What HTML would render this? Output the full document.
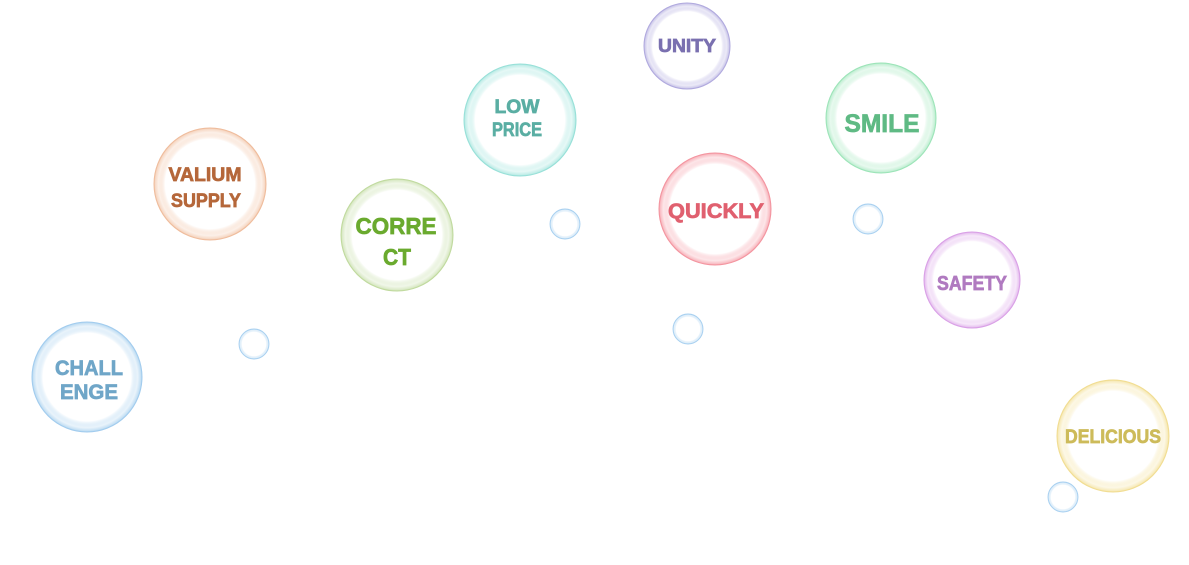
<!DOCTYPE html>
<html><head><meta charset="utf-8"><style>
html,body{margin:0;padding:0;background:#fff;width:1189px;height:565px;overflow:hidden}
svg{display:block}
text{font-family:"Liberation Sans",sans-serif;font-weight:bold;text-anchor:middle;stroke-width:0.7;paint-order:stroke}
</style></head><body>
<svg width="1189" height="565" viewBox="0 0 1189 565" xmlns="http://www.w3.org/2000/svg">
<defs>
<radialGradient id="gU"><stop offset="0" stop-color="#fff"/><stop offset="0.8" stop-color="#fff"/><stop offset="0.92" stop-color="#b4aee0" stop-opacity="0.25"/><stop offset="0.98" stop-color="#b4aee0" stop-opacity="0.65"/><stop offset="1" stop-color="#a9a2dc" stop-opacity="0.9"/></radialGradient>
<radialGradient id="gL"><stop offset="0" stop-color="#fff"/><stop offset="0.8" stop-color="#fff"/><stop offset="0.92" stop-color="#9fe4dc" stop-opacity="0.25"/><stop offset="0.98" stop-color="#9fe4dc" stop-opacity="0.65"/><stop offset="1" stop-color="#8ddcd3" stop-opacity="0.9"/></radialGradient>
<radialGradient id="gS"><stop offset="0" stop-color="#fff"/><stop offset="0.8" stop-color="#fff"/><stop offset="0.92" stop-color="#a6e8c0" stop-opacity="0.25"/><stop offset="0.98" stop-color="#a6e8c0" stop-opacity="0.65"/><stop offset="1" stop-color="#93e2b2" stop-opacity="0.9"/></radialGradient>
<radialGradient id="gV"><stop offset="0" stop-color="#fff"/><stop offset="0.8" stop-color="#fff"/><stop offset="0.92" stop-color="#f2c4a6" stop-opacity="0.25"/><stop offset="0.98" stop-color="#f2c4a6" stop-opacity="0.65"/><stop offset="1" stop-color="#ecb592" stop-opacity="0.9"/></radialGradient>
<radialGradient id="gC"><stop offset="0" stop-color="#fff"/><stop offset="0.8" stop-color="#fff"/><stop offset="0.92" stop-color="#c6dea8" stop-opacity="0.25"/><stop offset="0.98" stop-color="#c6dea8" stop-opacity="0.65"/><stop offset="1" stop-color="#b9d694" stop-opacity="0.9"/></radialGradient>
<radialGradient id="gQ"><stop offset="0" stop-color="#fff"/><stop offset="0.8" stop-color="#fff"/><stop offset="0.92" stop-color="#f6a0aa" stop-opacity="0.25"/><stop offset="0.98" stop-color="#f6a0aa" stop-opacity="0.7"/><stop offset="1" stop-color="#f28c98" stop-opacity="0.95"/></radialGradient>
<radialGradient id="gF"><stop offset="0" stop-color="#fff"/><stop offset="0.8" stop-color="#fff"/><stop offset="0.92" stop-color="#deaaea" stop-opacity="0.25"/><stop offset="0.98" stop-color="#deaaea" stop-opacity="0.7"/><stop offset="1" stop-color="#d596e4" stop-opacity="0.95"/></radialGradient>
<radialGradient id="gH"><stop offset="0" stop-color="#fff"/><stop offset="0.8" stop-color="#fff"/><stop offset="0.92" stop-color="#abd2ef" stop-opacity="0.25"/><stop offset="0.98" stop-color="#abd2ef" stop-opacity="0.7"/><stop offset="1" stop-color="#99c8ec" stop-opacity="0.95"/></radialGradient>
<radialGradient id="gD"><stop offset="0" stop-color="#fff"/><stop offset="0.8" stop-color="#fff"/><stop offset="0.92" stop-color="#f4e29e" stop-opacity="0.25"/><stop offset="0.98" stop-color="#f4e29e" stop-opacity="0.7"/><stop offset="1" stop-color="#efd985" stop-opacity="0.95"/></radialGradient>
<radialGradient id="gB"><stop offset="0" stop-color="#fff"/><stop offset="0.8" stop-color="#fff"/><stop offset="0.93" stop-color="#b2d6f2" stop-opacity="0.35"/><stop offset="1" stop-color="#9ecbef" stop-opacity="0.95"/></radialGradient>
</defs>

<!-- big bubbles -->
<circle cx="687" cy="46" r="43" fill="url(#gU)" stroke="#b0a9de" stroke-width="1"/>
<circle cx="520" cy="120" r="56" fill="url(#gL)" stroke="#97e0d8" stroke-width="1"/>
<circle cx="881" cy="118" r="55" fill="url(#gS)" stroke="#9ce4b8" stroke-width="1"/>
<circle cx="210" cy="184" r="56" fill="url(#gV)" stroke="#efbc9c" stroke-width="1"/>
<circle cx="397" cy="235" r="56" fill="url(#gC)" stroke="#c0da9e" stroke-width="1"/>
<circle cx="715" cy="209" r="56" fill="url(#gQ)" stroke="#f3949f" stroke-width="1"/>
<circle cx="972" cy="280" r="48" fill="url(#gF)" stroke="#d9a0e6" stroke-width="1"/>
<circle cx="87" cy="377" r="55" fill="url(#gH)" stroke="#a2ccee" stroke-width="1"/>
<circle cx="1113" cy="436" r="56" fill="url(#gD)" stroke="#f1dd92" stroke-width="1"/>

<!-- small bubbles -->
<circle cx="565" cy="224" r="15" fill="url(#gB)" stroke="#a8d0f0" stroke-width="0.9"/>
<circle cx="254" cy="344" r="15" fill="url(#gB)" stroke="#a8d0f0" stroke-width="0.9"/>
<circle cx="688" cy="329" r="15" fill="url(#gB)" stroke="#a8d0f0" stroke-width="0.9"/>
<circle cx="868" cy="219" r="15" fill="url(#gB)" stroke="#a8d0f0" stroke-width="0.9"/>
<circle cx="1063" cy="497" r="15" fill="url(#gB)" stroke="#a8d0f0" stroke-width="0.9"/>

<!-- labels -->
<text x="687" y="52" font-size="18" fill="#7a70b0" stroke="#7a70b0" textLength="58" lengthAdjust="spacingAndGlyphs">UNITY</text>
<text x="517" y="113" font-size="19" fill="#5aaea3" stroke="#5aaea3" textLength="45" lengthAdjust="spacingAndGlyphs">LOW</text>
<text x="517" y="136" font-size="19" fill="#5aaea3" stroke="#5aaea3" textLength="50" lengthAdjust="spacingAndGlyphs">PRICE</text>
<text x="882" y="132" font-size="25" fill="#5fba84" stroke="#5fba84" textLength="75" lengthAdjust="spacingAndGlyphs">SMILE</text>
<text x="205" y="181" font-size="19" fill="#b5673a" stroke="#b5673a" textLength="73" lengthAdjust="spacingAndGlyphs">VALIUM</text>
<text x="206" y="207" font-size="19" fill="#b5673a" stroke="#b5673a" textLength="70" lengthAdjust="spacingAndGlyphs">SUPPLY</text>
<text x="396" y="234" font-size="23" fill="#6aaa2e" stroke="#6aaa2e" textLength="81" lengthAdjust="spacingAndGlyphs">CORRE</text>
<text x="397" y="265" font-size="23" fill="#6aaa2e" stroke="#6aaa2e" textLength="28" lengthAdjust="spacingAndGlyphs">CT</text>
<text x="716" y="218" font-size="21" fill="#e0606f" stroke="#e0606f" textLength="96" lengthAdjust="spacingAndGlyphs">QUICKLY</text>
<text x="972" y="290" font-size="20" fill="#b07ac0" stroke="#b07ac0" textLength="70" lengthAdjust="spacingAndGlyphs">SAFETY</text>
<text x="89" y="375" font-size="21" fill="#6fa6c8" stroke="#6fa6c8" textLength="68" lengthAdjust="spacingAndGlyphs">CHALL</text>
<text x="89" y="399" font-size="21" fill="#6fa6c8" stroke="#6fa6c8" textLength="58" lengthAdjust="spacingAndGlyphs">ENGE</text>
<text x="1113" y="443" font-size="19" fill="#cdbb5a" stroke="#cdbb5a" textLength="96" lengthAdjust="spacingAndGlyphs">DELICIOUS</text>
</svg>
</body></html>
